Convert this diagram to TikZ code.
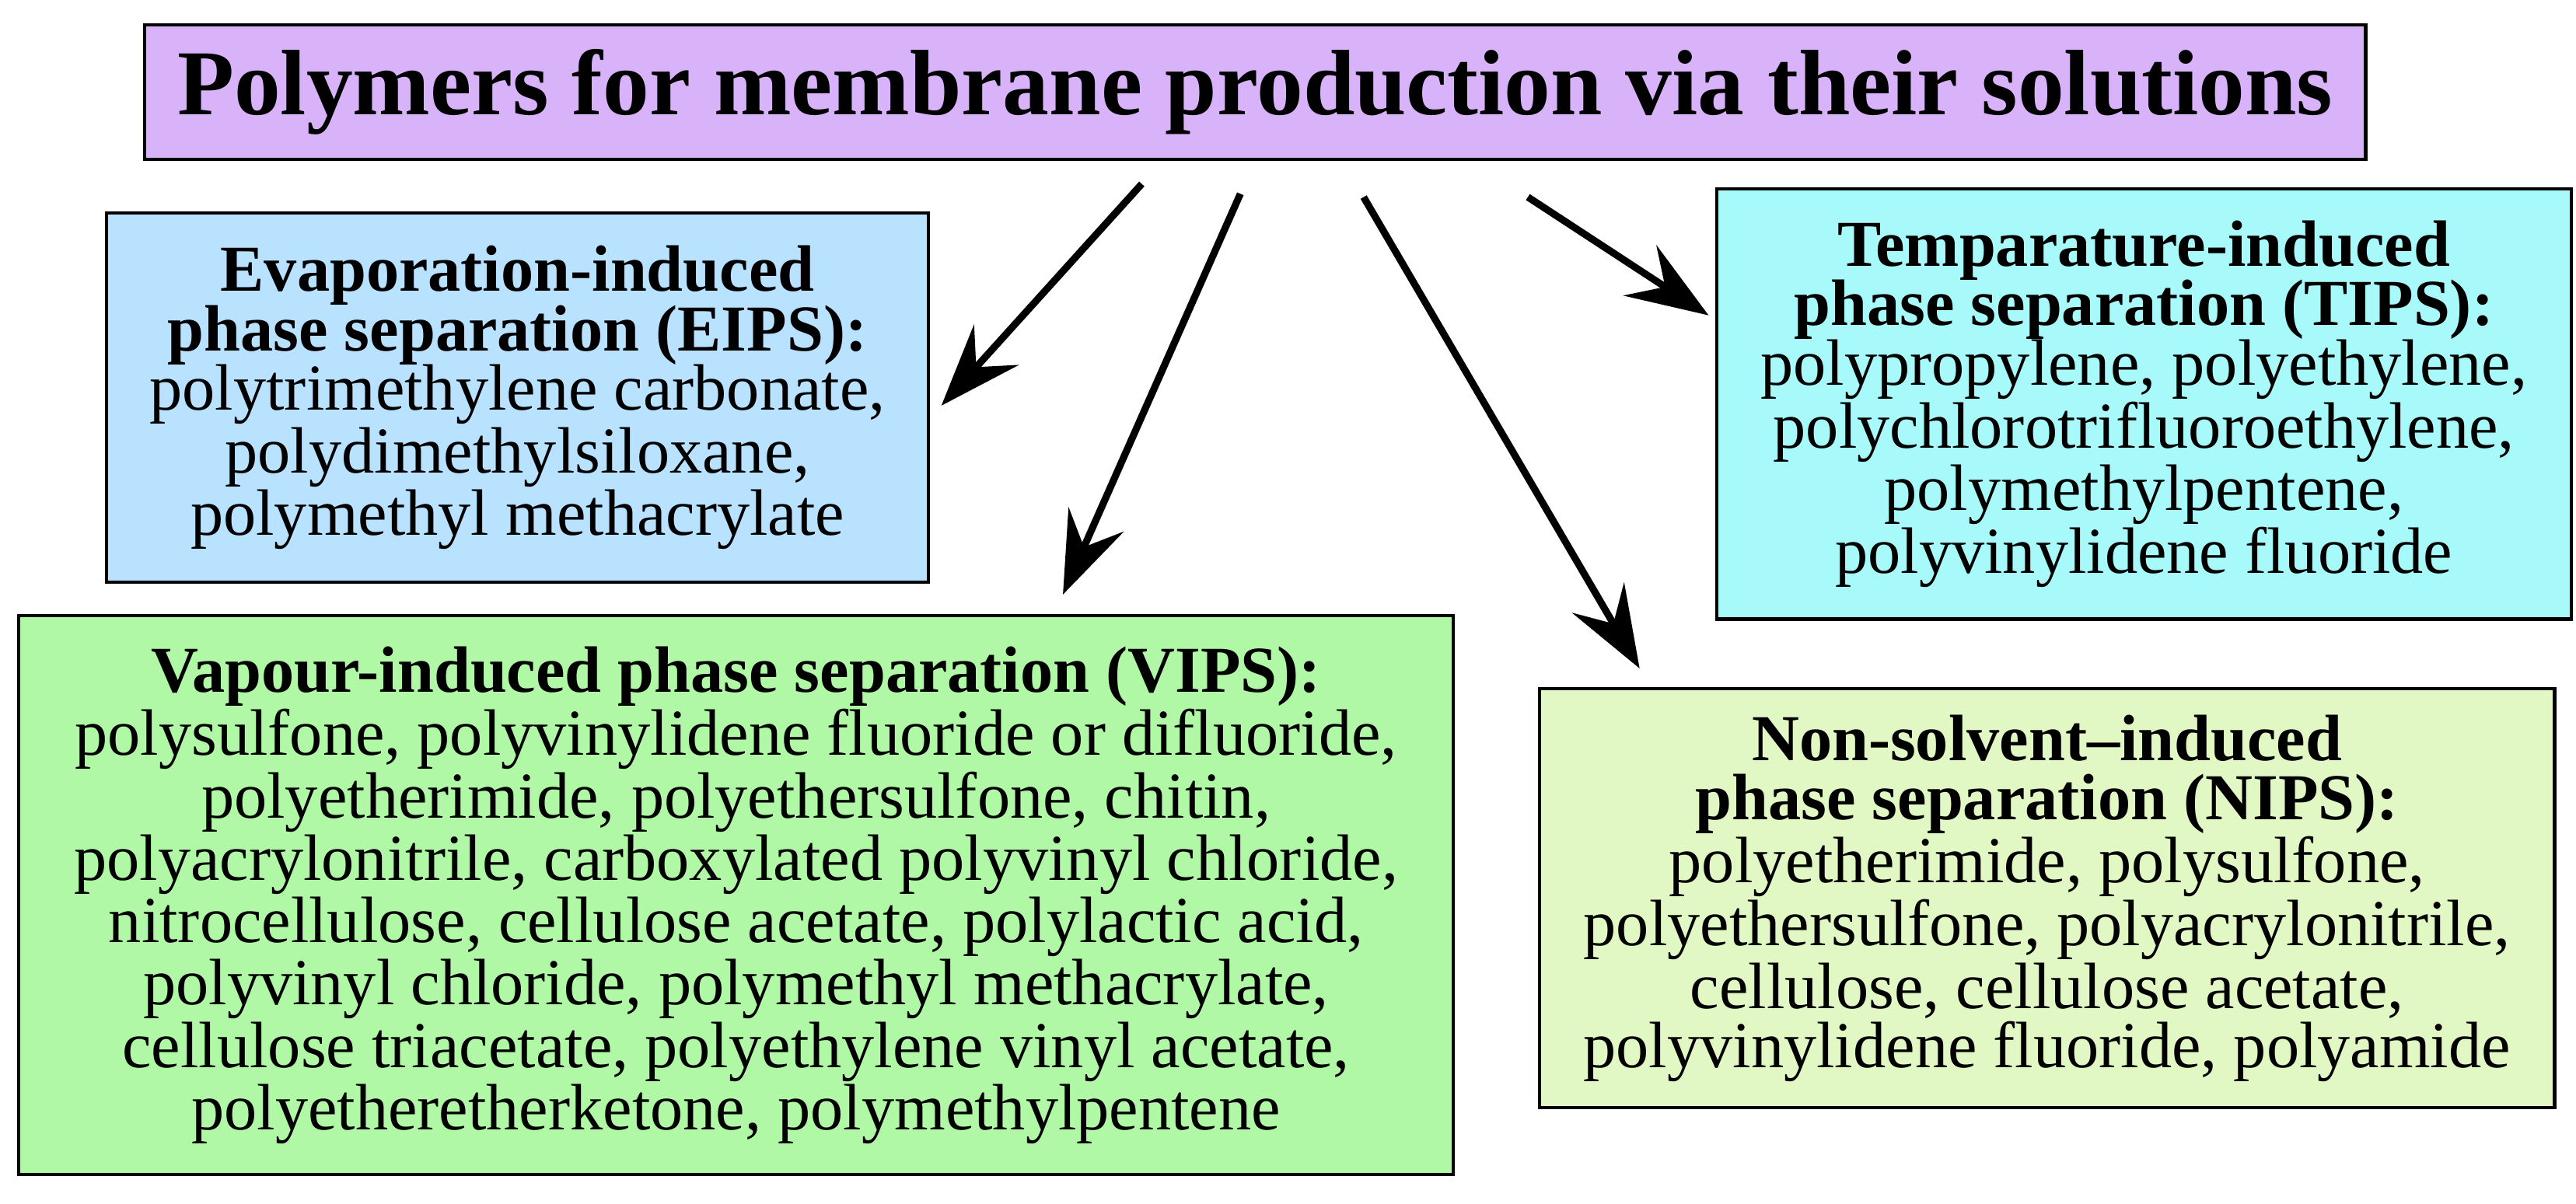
\documentclass[tikz,border=0pt]{standalone}
\usepackage{fontspec}
\setmainfont{Liberation Serif}
\usetikzlibrary{arrows.meta}
\tikzset{
        box/.style = {draw=black, line width=1.2pt, align=center, inner sep=0pt,
            font=\fontsize{24}{21.8}\selectfont},
        arr/.style = {line width=2.6pt, -{Stealth[length=30pt,width=22pt,inset=11pt]}}
    }
\definecolor{titlec}{HTML}{D9B3FA}
\definecolor{eipsc}{HTML}{B8E2FF}
\definecolor{vipsc}{HTML}{B0F8A6}
\definecolor{tipsc}{HTML}{A8FAFA}
\definecolor{nipsc}{HTML}{E2F8C4}
\begin{document}
\begin{tikzpicture}[x=0.02113cm,y=-0.02113cm]
    \useasboundingbox (0,0) rectangle (1568,733);
    \node [box, fill=titlec, minimum width=1352*0.02113cm, minimum height=82*0.02113cm,
        font=\fontsize{34}{34}\bfseries] (title) at (764,56)
        {Polymers for membrane production via their solutions};
    \node [box, fill=eipsc, minimum width=500*0.02113cm, minimum height=225*0.02113cm] (eips) at (315,242)
        {\textbf{Evaporation-induced}\\\textbf{phase separation (EIPS):}\\polytrimethylene carbonate,\\
         polydimethylsiloxane,\\polymethyl methacrylate};
    \node [box, fill=vipsc, minimum width=873*0.02113cm, minimum height=340*0.02113cm] (vips) at (448,545)
        {\textbf{Vapour-induced phase separation (VIPS):}\\polysulfone, polyvinylidene fluoride or difluoride,\\
         polyetherimide, polyethersulfone, chitin,\\polyacrylonitrile, carboxylated polyvinyl chloride,\\
         nitrocellulose, cellulose acetate, polylactic acid,\\polyvinyl chloride, polymethyl methacrylate,\\
         cellulose triacetate, polyethylene vinyl acetate,\\polyetheretherketone, polymethylpentene};
    \node [box, fill=tipsc, minimum width=520*0.02113cm, minimum height=262*0.02113cm] (tips) at (1305,246)
        {\textbf{Temparature-induced}\\\textbf{phase separation (TIPS):}\\polypropylene, polyethylene,\\
         polychlorotrifluoroethylene,\\polymethylpentene,\\polyvinylidene fluoride};
    \node [box, fill=nipsc, minimum width=618*0.02113cm, minimum height=255*0.02113cm] (nips) at (1246,547)
        {\textbf{Non-solvent--induced}\\\textbf{phase separation (NIPS):}\\polyetherimide, polysulfone,\\
         polyethersulfone, polyacrylonitrile,\\cellulose, cellulose acetate,\\polyvinylidene fluoride, polyamide};
    % arrow ends
    \coordinate (s1) at (695,112); \coordinate (e1) at (573,247);
    \coordinate (s2) at (755,118); \coordinate (e2) at (647,362);
    \coordinate (s3) at (830,120); \coordinate (e3) at (998,407);
    \coordinate (s4) at (930,120); \coordinate (e4) at (1040,192);
    \draw [arr] (s1) -- (e1);
    \draw [arr] (s2) -- (e2);
    \draw [arr] (s3) -- (e3);
    \draw [arr] (s4) -- (e4);
\end{tikzpicture}
\end{document}
